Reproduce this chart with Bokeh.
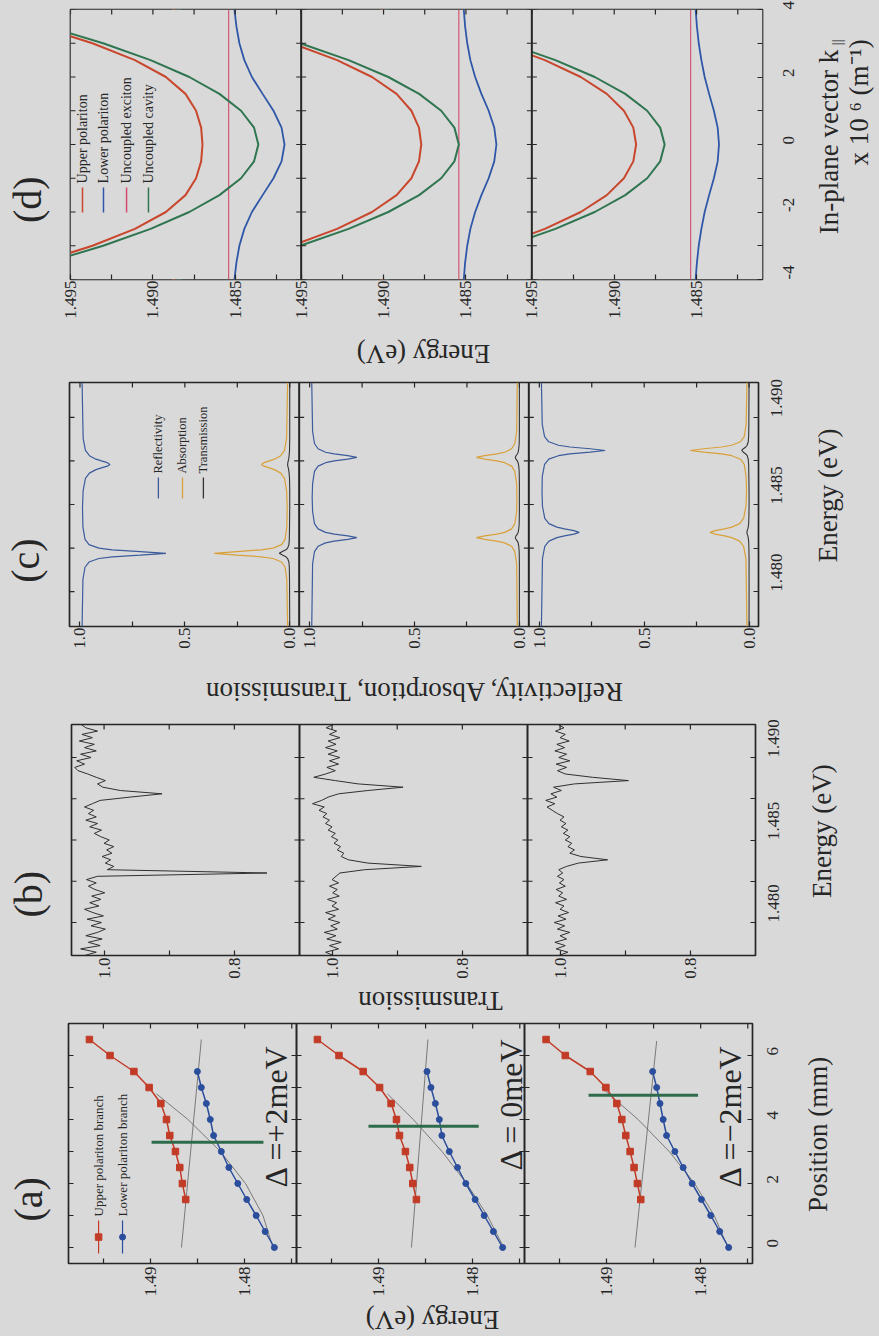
import math
from bokeh.plotting import figure
from bokeh.models import Range1d, FixedTicker, PrintfTickFormatter, Span
from bokeh.layouts import column, row
from bokeh.core.properties import value
from bokeh.embed import file_html
from bokeh.resources import INLINE

FONT = "Liberation Serif"
INK = "#262626"
PAPER = "#d9d9d9"

# ---------------- (a) polariton branch energies versus position on the wedge ----------------
a_up_pos = [1.5, 2.0, 2.5, 3.0, 3.5, 4.0, 4.5, 5.0, 5.5, 6.0, 6.5]
a_up_energy = [
    [1.48626, 1.48661, 1.48689, 1.48735, 1.48795, 1.48830, 1.48890, 1.49014, 1.49176, 1.49429, 1.49648],
    [1.48597, 1.48636, 1.48668, 1.48714, 1.48777, 1.48809, 1.48866, 1.48988, 1.49162, 1.49419, 1.49648],
    [1.48636, 1.48672, 1.48707, 1.48749, 1.48795, 1.48837, 1.48890, 1.49006, 1.49172, 1.49437, 1.49641],
]
a_lp_pos = [0.0, 0.5, 1.0, 1.5, 2.0, 2.5, 3.0, 3.5, 4.0, 4.5, 5.0, 5.5]
a_lp_energy = [
    [1.47685, 1.47783, 1.47878, 1.47978, 1.48073, 1.48168, 1.48248, 1.48330, 1.48365, 1.48407, 1.48460, 1.48502],
    [1.47682, 1.47780, 1.47878, 1.47974, 1.48073, 1.48161, 1.48248, 1.48327, 1.48354, 1.48396, 1.48443, 1.48485],
    [1.47703, 1.47798, 1.47893, 1.47992, 1.48091, 1.48186, 1.48274, 1.48362, 1.48398, 1.48432, 1.48467, 1.48510],
]
a_exc_pos = [[0.0, 6.5], [0.0, 6.5], [0.0, 6.45]]
a_exc_energy = [[1.48671, 1.48460], [1.48650, 1.48475], [1.48697, 1.48467]]
a_cav_pos = [[0.0, 1.0, 2.0, 3.0, 4.0, 4.8], [0.0, 1.0, 2.0, 3.0, 4.0, 4.8], [0.0, 1.0, 2.0, 3.0, 4.0, 5.0]]
a_cav_energy = [
    [1.47700, 1.47806, 1.47991, 1.48257, 1.48602, 1.48936],
    [1.47670, 1.47845, 1.48064, 1.48325, 1.48630, 1.48905],
    [1.47710, 1.47857, 1.48065, 1.48334, 1.48664, 1.49053],
]
a_res_pos = [3.29, 3.79, 4.76]
a_res_e_hi = [1.48988, 1.49106, 1.49190]
a_res_e_lo = [1.47801, 1.47936, 1.48028]
a_detuning = ["\u0394 =+2meV", "\u0394 = 0meV", "\u0394 =\u22122meV"]

# ---------------- (b) measured transmission spectra ----------------
b_energy = [1.4780, 1.4782, 1.4784, 1.4786, 1.4788, 1.4790, 1.4792, 1.4794, 1.4796, 1.4798,
            1.4800, 1.4802, 1.4804, 1.4806, 1.4808, 1.4810, 1.4812, 1.4814, 1.4816, 1.4818,
            1.4820, 1.4822, 1.4824, 1.4826, 1.4828, 1.4830, 1.4832, 1.4834, 1.4836, 1.4838,
            1.4840, 1.4842, 1.4844, 1.4846, 1.4848, 1.4850, 1.4852, 1.4854, 1.4856, 1.4858,
            1.4860, 1.4862, 1.4864, 1.4866, 1.4868, 1.4870, 1.4872, 1.4874, 1.4876, 1.4878,
            1.4880, 1.4882, 1.4884, 1.4886, 1.4888, 1.4890, 1.4892, 1.4894, 1.4896, 1.4898,
            1.4900, 1.4902, 1.4904, 1.4906, 1.4908, 1.4910, 1.4912, 1.4914, 1.4916, 1.4918,
            1.4920]
b_trans = [
    [1.030, 1.012, 1.036, 1.006, 1.024, 1.003, 1.028, 1.010, 0.998, 1.020,
     1.004, 1.026, 1.001, 1.017, 1.030, 1.008, 1.022, 1.005, 1.019, 0.999,
     1.014, 1.024, 1.012, 1.027, 1.010, 0.750, 0.995, 0.985, 0.998, 0.990,
     1.003, 0.988, 0.996, 0.985, 1.000, 0.992, 1.005, 1.015, 1.004, 1.022,
     1.010, 1.028, 1.012, 1.024, 1.016, 1.030, 1.018, 1.006, 0.960, 0.911,
     0.975, 1.002, 1.010, 0.998, 1.012, 1.025, 1.040, 1.045, 1.030, 1.042,
     1.020, 1.036, 1.012, 1.030, 1.015, 1.038, 1.018, 1.034, 1.010, 1.028,
     1.035],
    [0.998, 1.010, 0.990, 1.004, 0.986, 1.008, 0.994, 1.012, 0.992, 1.002,
     0.988, 1.006, 0.995, 1.010, 0.990, 1.000, 0.993, 1.007, 0.989, 0.999,
     0.992, 1.004, 0.990, 1.000, 0.994, 0.988, 0.950, 0.863, 0.945, 0.975,
     0.986, 0.982, 0.992, 0.987, 0.997, 0.991, 1.001, 0.995, 1.006, 1.000,
     1.010, 1.004, 1.014, 1.008, 1.020, 1.012, 1.030, 1.016, 1.006, 0.990,
     0.945, 0.891, 0.960, 0.995, 1.028, 1.010, 0.995, 1.008, 0.990, 1.004,
     0.988, 1.006, 0.992, 1.010, 0.994, 1.006, 0.988, 1.004, 0.993, 1.009,
     0.998],
    [1.002, 0.988, 1.006, 0.992, 1.008, 0.990, 1.000, 0.985, 1.004, 0.993,
     1.009, 0.991, 1.003, 0.987, 1.000, 0.994, 1.007, 0.990, 1.002, 0.996,
     1.006, 0.992, 1.001, 0.994, 1.004, 0.996, 1.002, 0.990, 0.972, 0.927,
     0.968, 0.985, 0.978, 0.988, 0.982, 0.992, 0.985, 0.995, 0.988, 0.998,
     0.991, 1.000, 0.994, 1.004, 1.012, 1.020, 1.008, 1.022, 1.005, 1.014,
     0.998, 1.010, 0.978, 0.895, 0.950, 0.992, 1.004, 0.990, 1.006, 0.985,
     1.002, 0.990, 1.008, 0.993, 1.005, 0.986, 1.000, 0.992, 1.007, 0.994,
     1.003],
]

# ---------------- (c) modelled reflectivity, absorption and transmission ----------------
c_energy = [
    [1.4780, 1.4807, 1.4814, 1.4817, 1.4819, 1.4820, 1.4821, 1.4822, 1.4823, 1.4824, 1.4825, 1.4827, 1.4830, 1.4837,
     1.4848, 1.4858, 1.4865, 1.4868, 1.4870, 1.4871, 1.4872, 1.4873, 1.4874, 1.4875, 1.4876, 1.4878, 1.4881, 1.4888, 1.4920],
    [1.4780, 1.4816, 1.4823, 1.4826, 1.4828, 1.4829, 1.4830, 1.4831, 1.4832, 1.4833, 1.4834, 1.4836, 1.4839, 1.4846,
     1.4854, 1.4862, 1.4869, 1.4872, 1.4874, 1.4875, 1.4876, 1.4877, 1.4878, 1.4879, 1.4880, 1.4882, 1.4885, 1.4892, 1.4920],
    [1.4780, 1.4819, 1.4826, 1.4829, 1.4831, 1.4832, 1.4833, 1.4834, 1.4835, 1.4836, 1.4837, 1.4839, 1.4842, 1.4849,
     1.4857, 1.4866, 1.4873, 1.4876, 1.4878, 1.4879, 1.4880, 1.4881, 1.4882, 1.4883, 1.4884, 1.4886, 1.4889, 1.4896, 1.4920],
]
c_refl = [
    [0.990, 0.986, 0.976, 0.957, 0.910, 0.846, 0.713, 0.590, 0.713, 0.846, 0.910, 0.957, 0.976, 0.986,
     0.988, 0.985, 0.974, 0.955, 0.924, 0.898, 0.870, 0.857, 0.870, 0.898, 0.924, 0.955, 0.974, 0.985, 0.990],
    [0.990, 0.986, 0.977, 0.960, 0.924, 0.883, 0.818, 0.775, 0.818, 0.883, 0.924, 0.960, 0.977, 0.986,
     0.988, 0.986, 0.977, 0.960, 0.924, 0.883, 0.818, 0.775, 0.818, 0.883, 0.924, 0.960, 0.977, 0.986, 0.990],
    [0.990, 0.985, 0.974, 0.954, 0.916, 0.880, 0.835, 0.810, 0.835, 0.880, 0.916, 0.954, 0.974, 0.985,
     0.987, 0.986, 0.975, 0.955, 0.909, 0.854, 0.758, 0.686, 0.758, 0.854, 0.909, 0.955, 0.975, 0.986, 0.990],
]
c_abs = [
    [0.010, 0.014, 0.022, 0.039, 0.080, 0.136, 0.252, 0.360, 0.252, 0.136, 0.080, 0.039, 0.022, 0.014,
     0.012, 0.015, 0.025, 0.043, 0.073, 0.097, 0.123, 0.135, 0.123, 0.097, 0.073, 0.043, 0.025, 0.015, 0.010],
    [0.010, 0.013, 0.022, 0.037, 0.070, 0.108, 0.166, 0.205, 0.166, 0.108, 0.070, 0.037, 0.022, 0.013,
     0.012, 0.013, 0.022, 0.037, 0.070, 0.108, 0.166, 0.205, 0.166, 0.108, 0.070, 0.037, 0.022, 0.013, 0.010],
    [0.010, 0.015, 0.026, 0.045, 0.082, 0.117, 0.162, 0.186, 0.162, 0.117, 0.082, 0.045, 0.026, 0.015,
     0.012, 0.014, 0.023, 0.041, 0.082, 0.131, 0.216, 0.280, 0.216, 0.131, 0.082, 0.041, 0.023, 0.014, 0.010],
]
c_trans = [
    [0.000, 0.001, 0.002, 0.004, 0.010, 0.018, 0.035, 0.050, 0.035, 0.018, 0.010, 0.004, 0.002, 0.001,
     0.000, 0.000, 0.001, 0.003, 0.005, 0.007, 0.009, 0.010, 0.009, 0.007, 0.005, 0.003, 0.001, 0.000, 0.000],
    [0.000, 0.000, 0.001, 0.003, 0.006, 0.010, 0.016, 0.020, 0.016, 0.010, 0.006, 0.003, 0.001, 0.000,
     0.000, 0.000, 0.001, 0.003, 0.006, 0.010, 0.016, 0.020, 0.016, 0.010, 0.006, 0.003, 0.001, 0.000, 0.000],
    [0.000, 0.000, 0.001, 0.002, 0.004, 0.006, 0.009, 0.010, 0.009, 0.006, 0.004, 0.002, 0.001, 0.000,
     0.000, 0.001, 0.002, 0.004, 0.009, 0.016, 0.027, 0.035, 0.027, 0.016, 0.009, 0.004, 0.002, 0.001, 0.000],
]

# ---------------- (d) dispersion against in-plane wave vector ----------------
d_k = [-4.0, -3.5, -3.0, -2.5, -2.0, -1.5, -1.0, -0.5, 0.0, 0.5, 1.0, 1.5, 2.0, 2.5, 3.0, 3.5, 4.0]
d_upper = [
    [1.50070, 1.49690, 1.49367, 1.49109, 1.48921, 1.48802, 1.48738, 1.48707, 1.48699,
     1.48707, 1.48738, 1.48802, 1.48921, 1.49109, 1.49367, 1.49690, 1.50070],
    [1.50285, 1.49892, 1.49557, 1.49282, 1.49070, 1.48921, 1.48831, 1.48785, 1.48771,
     1.48785, 1.48831, 1.48921, 1.49070, 1.49282, 1.49557, 1.49892, 1.50285],
    [1.50420, 1.50031, 1.49697, 1.49421, 1.49203, 1.49045, 1.48941, 1.48884, 1.48867,
     1.48884, 1.48941, 1.49045, 1.49203, 1.49421, 1.49697, 1.50031, 1.50420],
]
d_lower = [
    [1.48505, 1.48493, 1.48475, 1.48445, 1.48399, 1.48334, 1.48268, 1.48219, 1.48201,
     1.48219, 1.48268, 1.48334, 1.48399, 1.48445, 1.48475, 1.48493, 1.48505],
    [1.48513, 1.48505, 1.48492, 1.48473, 1.48444, 1.48406, 1.48362, 1.48328, 1.48315,
     1.48328, 1.48362, 1.48406, 1.48444, 1.48473, 1.48492, 1.48505, 1.48513],
    [1.48506, 1.48498, 1.48487, 1.48471, 1.48451, 1.48424, 1.48395, 1.48372, 1.48364,
     1.48372, 1.48395, 1.48424, 1.48451, 1.48471, 1.48487, 1.48498, 1.48506],
]
d_cavity = [
    [1.50035, 1.49643, 1.49302, 1.49014, 1.48779, 1.48596, 1.48465, 1.48386, 1.48360,
     1.48386, 1.48465, 1.48596, 1.48779, 1.49014, 1.49302, 1.49643, 1.50035],
    [1.50255, 1.49854, 1.49506, 1.49212, 1.48971, 1.48784, 1.48650, 1.48570, 1.48543,
     1.48570, 1.48650, 1.48784, 1.48971, 1.49212, 1.49506, 1.49854, 1.50255],
    [1.50390, 1.49993, 1.49648, 1.49357, 1.49118, 1.48933, 1.48800, 1.48721, 1.48694,
     1.48721, 1.48800, 1.48933, 1.49118, 1.49357, 1.49648, 1.49993, 1.50390],
]
d_exciton = [1.48540, 1.48543, 1.48536]
d_exciton_k = [-4.0, 4.0]

PAGE_W = 879
LEFT_STRIP = 60
UP_TXT = math.pi / 2
FLIP = math.pi
BG = {"background-color": PAPER}


def rn(j):
    return "default" if j == 0 else "s%d" % j


def frac(lim, f):
    return lim[0] + (lim[1] - lim[0]) * f


def put_text(p, x, y, text, size, angle, align="center", x_range_name="default"):
    p.text(x=[x], y=[y], text=[text], angle=angle, x_range_name=x_range_name,
           text_font=value(FONT), text_font_size=size, text_color=INK,
           text_align=align, text_baseline="middle")


def strip(width, height):
    """A plain area (pixel coordinates) that carries titles and axis names."""
    s = figure(width=width, height=height, x_range=Range1d(0, width), y_range=Range1d(0, height),
               min_border=0, outline_line_color=None,
               background_fill_color=PAPER, border_fill_color=PAPER,
               x_axis_type=None, y_axis_type=None, styles=BG,
               output_backend="svg", toolbar_location=None)
    return s


def style_axis(ax, ticker):
    ax.ticker = ticker
    ax.axis_line_color = None
    ax.major_tick_in = 5
    ax.major_tick_out = 0
    ax.minor_tick_in = 5
    ax.minor_tick_out = 0
    ax.major_tick_line_color = INK
    ax.minor_tick_line_color = INK
    ax.major_tick_line_width = 1.2
    ax.minor_tick_line_width = 1.2
    ax.major_label_text_font = FONT
    ax.major_label_text_font_size = "17px"
    ax.major_label_text_color = INK
    ax.major_label_orientation = math.pi / 2


class Panel:
    """Three sub-panels sharing one frame, laid side by side, plus the strips round them."""

    def __init__(self, main_h, foot_h, top, bottom, frame_left, frame_w, right_start,
                 xlim, ylim, x_major, x_minor, x_labels, y_major, y_minor, y_fmt, x_std, y_std):
        x0, x1 = xlim
        self.w = w = x0 - x1
        self.xlim, self.ylim = xlim, ylim
        self.main_h, self.foot_h = main_h, foot_h
        self.right_start = right_start
        p = figure(width=right_start - LEFT_STRIP, height=main_h,
                   x_range=Range1d(x0, x0 - 3 * w), y_range=Range1d(*ylim),
                   y_axis_location="right",
                   min_border_top=top, min_border_bottom=bottom,
                   min_border_left=frame_left - LEFT_STRIP,
                   min_border_right=right_start - frame_left - frame_w,
                   background_fill_color=PAPER, border_fill_color=PAPER,
                   outline_line_color=INK, outline_line_width=1.7, styles=BG,
                   output_backend="svg", toolbar_location=None)
        p.extra_x_ranges = {"s1": Range1d(x0 + w, x0 - 2 * w),
                            "s2": Range1d(x0 + 2 * w, x0 - w)}
        p.grid.visible = False
        self.p = p

        vmaj, vmin, over = [], [], {}
        for j in range(3):
            for t, lab in zip(x_major, x_labels):
                v = round(t - j * w, 9)
                vmaj.append(v)
                over[v] = lab
            for t in x_minor:
                vmin.append(round(t - j * w, 9))
        self.vticks = vmaj + vmin
        self.yticks = list(y_major) + list(y_minor)

        bx = p.below[0]
        style_axis(bx, FixedTicker(ticks=vmaj, minor_ticks=vmin))
        bx.major_label_overrides = over
        bx.major_label_standoff = x_std

        ry = p.right[0]
        style_axis(ry, FixedTicker(ticks=list(y_major), minor_ticks=list(y_minor)))
        ry.formatter = PrintfTickFormatter(format=y_fmt)
        ry.major_label_standoff = y_std

        self.left = strip(LEFT_STRIP, main_h)
        self.right = strip(PAGE_W - right_start, main_h)
        self.foot = strip(PAGE_W, foot_h)

    def rotated_text(self, j, xs, ys, texts, size):
        self.p.text(x=xs, y=ys, text=texts, angle=UP_TXT, x_range_name=rn(j),
                    text_font=value(FONT), text_font_size=size, text_color=INK,
                    text_align="left", text_baseline="middle")

    def finish(self):
        p = self.p
        x0 = self.xlim[0]
        y0, y1 = self.ylim
        # inward ticks on the two frame edges that carry no labels
        p.scatter(x=self.vticks, y=[y1] * len(self.vticks), marker="dash", angle=math.pi / 2,
                  size=10, line_color=INK, line_width=1.2)
        p.scatter(x=[x0] * len(self.yticks), y=self.yticks, marker="dash",
                  size=10, line_color=INK, line_width=1.2)
        # separators between the three sub-panels, ticked on both sides
        for j in (1, 2):
            b = round(x0 - j * self.w, 9)
            p.add_layout(Span(location=b, dimension="height", line_color=INK, line_width=2.0))
            p.scatter(x=[b] * len(self.yticks), y=self.yticks, marker="dash", size=10,
                      line_color=INK, line_width=1.2)

    # page-style helpers: py is measured downward from the top of the panel
    def tag(self, px, py, text):
        put_text(self.left, px, self.main_h - py, text, "40px", UP_TXT)

    def side_title(self, px, py, text, size="27px", align="center"):
        put_text(self.right, px - self.right_start, self.main_h - py, text, size, UP_TXT, align)

    def foot_title(self, px, text):
        put_text(self.foot, px, self.foot_h / 2.0, text, "27px", FLIP)

    def layout(self):
        return column(row(self.left, self.p, self.right, spacing=0, styles=BG),
                      self.foot, spacing=0, styles=BG)


# ============ panel (d) ============
D_X = (1.495, 1.481)
D_Y = (-4.0, 4.0)
D = Panel(335, 37, 9, 56, 70, 692, 808, D_X, D_Y,
          [1.485, 1.490, 1.495], [1.4825, 1.4875, 1.4925], ["1.485", "1.490", "1.495"],
          [-4, -2, 0, 2, 4], [-3, -1, 1, 3], "%d", 1, 26)
D_UP, D_LP, D_EXC, D_CAV = "#c8472d", "#2f57a8", "#d24b6e", "#2f7550"
for j in (2, 1, 0):
    r = rn(j)
    D.p.quad(left=[D_X[0]], right=[D_X[1]], bottom=[D_Y[0]], top=[D_Y[1]], x_range_name=r,
             fill_color=PAPER, line_color=None)
    D.p.line([d_exciton[j]] * 2, d_exciton_k, x_range_name=r, line_color=D_EXC, line_width=1.1)
    D.p.line(d_cavity[j], d_k, x_range_name=r, line_color=D_CAV, line_width=2.0)
    D.p.line(d_upper[j], d_k, x_range_name=r, line_color=D_UP, line_width=2.0)
    D.p.line(d_lower[j], d_k, x_range_name=r, line_color=D_LP, line_width=1.8)
d_leg_x = [frac(D_X, f) for f in (0.052, 0.143, 0.243, 0.338)]
D.p.segment(x0=d_leg_x, y0=[frac(D_Y, 0.248)] * 4, x1=d_leg_x, y1=[frac(D_Y, 0.341)] * 4,
            line_color=[D_UP, D_LP, D_EXC, D_CAV], line_width=1.5)
D.rotated_text(0, d_leg_x, [frac(D_Y, 0.356)] * 4,
               ["Upper polariton", "Lower polariton", "Uncoupled exciton", "Uncoupled cavity"], "14px")
D.finish()
D.tag(27, 236, "(d)")
D.foot_title(423, "Energy (eV)")
D.side_title(828, 50, "In-plane vector k", align="right")
D.side_title(836, 37, "||", size="15px", align="right")
D.side_title(858, 37, "x 10 \u2076 (m\u207b\u00b9)", align="right")

# ============ panel (c) ============
C_X = (1.05, -0.045)
C_Y = (1.478, 1.492)
C = Panel(296, 46, 10, 42, 69, 689, 806, C_X, C_Y,
          [0.0, 0.5, 1.0], [0.25, 0.75], ["0.0", "0.5", "1.0"],
          [1.480, 1.485, 1.490], [1.4825, 1.4875], "%.3f", 1, 18)
C_R, C_A, C_T = "#3b5b9c", "#d9a13a", "#333333"
for j in range(3):
    r = rn(j)
    C.p.line(c_trans[j], c_energy[j], x_range_name=r, line_color=C_T, line_width=1.1)
    C.p.line(c_abs[j], c_energy[j], x_range_name=r, line_color=C_A, line_width=1.2)
    C.p.line(c_refl[j], c_energy[j], x_range_name=r, line_color=C_R, line_width=1.2)
c_leg_x = [frac(C_X, f) for f in (0.387, 0.492, 0.583)]
C.p.segment(x0=c_leg_x, y0=[frac(C_Y, 0.525)] * 3, x1=c_leg_x, y1=[frac(C_Y, 0.611)] * 3,
            line_color=[C_R, C_A, C_T], line_width=1.3)
C.rotated_text(0, c_leg_x, [frac(C_Y, 0.627)] * 3,
               ["Reflectivity", "Absorption", "Transmission"], "12.5px")
C.finish()
C.tag(25, 216, "(c)")
C.foot_title(413, "Reflectivity, Absorption, Transmission")
C.side_title(827, 137, "Energy (eV)")

# ============ panel (b) ============
B_X = (1.05, 0.70)
B_Y = (1.478, 1.492)
B = Panel(271, 30, 10, 30, 71, 684, 800, B_X, B_Y,
          [0.8, 1.0], [0.9], ["0.8", "1.0"],
          [1.480, 1.485, 1.490], [1.4825, 1.4875], "%.3f", 2, 18)
for j in range(3):
    B.p.line(b_trans[j], b_energy, x_range_name=rn(j), line_color="#303030", line_width=1.0)
B.finish()
B.tag(28, 199, "(b)")
B.foot_title(430, "Transmission")
B.side_title(821, 125, "Energy (eV)")

# ============ panel (a) ============
A_X = (1.4987, 1.4745)
A_Y = (-0.5, 7.0)
A = Panel(288, 33, 8, 40, 68, 684, 800, A_X, A_Y,
          [1.48, 1.49], [1.475, 1.485, 1.495], ["1.48", "1.49"],
          [0, 2, 4, 6], [1, 3, 5], "%d", 3, 20)
A_RED, A_BLUE, A_GREEN, A_GRAY = "#c23b26", "#2a4d9c", "#2e6b4b", "#6e6e6e"
for j in range(3):
    r = rn(j)
    A.p.line(a_cav_energy[j], a_cav_pos[j], x_range_name=r, line_color=A_GRAY, line_width=0.9)
    A.p.line(a_exc_energy[j], a_exc_pos[j], x_range_name=r, line_color=A_GRAY, line_width=0.9)
    A.p.line(a_up_energy[j], a_up_pos, x_range_name=r, line_color=A_RED, line_width=1.5)
    A.p.scatter(a_up_energy[j], a_up_pos, x_range_name=r, marker="square", size=6.5,
                fill_color=A_RED, line_color=A_RED)
    A.p.line(a_lp_energy[j], a_lp_pos, x_range_name=r, line_color=A_BLUE, line_width=1.5)
    A.p.scatter(a_lp_energy[j], a_lp_pos, x_range_name=r, marker="circle", size=6,
                fill_color=A_BLUE, line_color=A_BLUE)
    A.p.segment(x0=[a_res_e_hi[j]], y0=[a_res_pos[j]], x1=[a_res_e_lo[j]], y1=[a_res_pos[j]],
                x_range_name=r, line_color=A_GREEN, line_width=3)
for j, (fxp, fyp) in enumerate([(0.908, 0.317), (0.94, 0.3875), (0.90, 0.317)]):
    A.rotated_text(j, [frac(A_X, fxp)], [frac(A_Y, fyp)], [a_detuning[j]], "32px")
a_leg_x = [frac(A_X, 0.132), frac(A_X, 0.237)]
A.p.segment(x0=a_leg_x, y0=[frac(A_Y, 0.042)] * 2, x1=a_leg_x, y1=[frac(A_Y, 0.179)] * 2,
            line_color=[A_RED, A_BLUE], line_width=1.2)
A.p.scatter([a_leg_x[0]], [frac(A_Y, 0.11)], marker="square", size=6.5, fill_color=A_RED, line_color=A_RED)
A.p.scatter([a_leg_x[1]], [frac(A_Y, 0.11)], marker="circle", size=6, fill_color=A_BLUE, line_color=A_BLUE)
A.rotated_text(0, a_leg_x, [frac(A_Y, 0.196)] * 2,
               ["Upper polariton branch", "Lower polariton branch"], "13px")
A.finish()
A.tag(28, 211, "(a)")
A.foot_title(432, "Energy (eV)")
A.side_title(817, 133, "Position (mm)")

page = column(D.layout(), C.layout(), B.layout(), A.layout(), spacing=0, styles=BG)
open("out.html", "w").write(file_html(page, INLINE, title="Polariton spectra"))
